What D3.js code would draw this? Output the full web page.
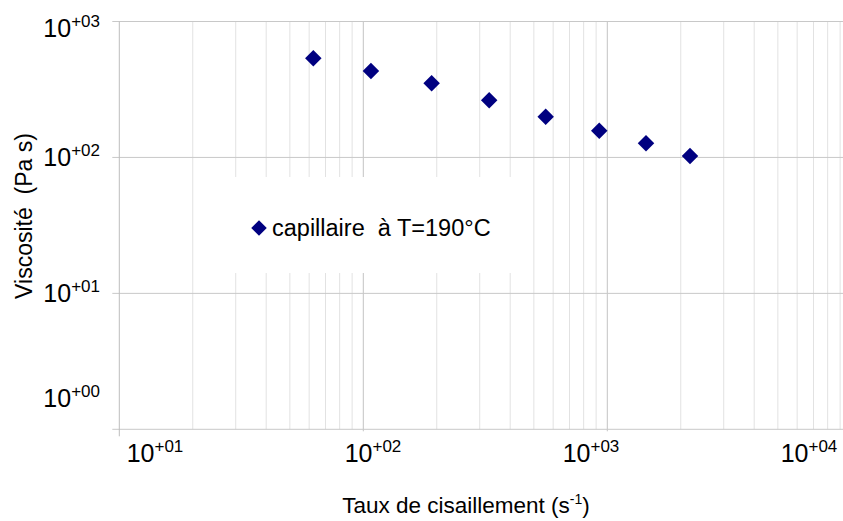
<!DOCTYPE html>
<html><head><meta charset="utf-8">
<script src="https://cdn.jsdelivr.net/npm/d3@7"></script>
<style>body{margin:0;background:#fff}svg{display:block}text{font-family:"Liberation Sans",Arial,sans-serif;fill:#000}</style>
</head><body><svg id="c" width="843" height="521"></svg>
<script>
const shearRate = [62.4, 107.5, 190.6, 328, 559, 927, 1441, 2183];
const viscosity = [536, 432, 351, 263, 199.5, 157.4, 127.1, 102.6];
const seriesName = "capillaire  à T=190°C";
const xTickValues = [10, 100, 1000, 10000];
const xTickExp = ["+01", "+02", "+03", "+04"];
const yTickValues = [1, 10, 100, 1000];
const yTickExp = ["+00", "+01", "+02", "+03"];
const xTitle = "Taux de cisaillement (s";
const xTitleSup = "-1";
const yTitle = "Viscosité  (Pa s)";

(function () {
const svg = d3.select("#c");
const W = 843;
const x = d3.scaleLog().domain([10, 10000]).range([119.3, 851.3]);
const y = d3.scaleLog().domain([1, 1000]).range([429.3, 21.5]);
const pLeft = 119.3, pBottom = 429.3, pTop = 21.5;

// vertical gridlines
const minorX = [];
for (let d = 10; d < 10000; d *= 10) for (let m = 2; m <= 9; m++) minorX.push(d * m);
svg.append("g").selectAll("line").data(minorX.filter(v => x(v) <= W)).join("line")
  .attr("x1", d => x(d)).attr("x2", d => x(d)).attr("y1", pTop).attr("y2", pBottom)
  .attr("stroke", "#e2e2e2").attr("stroke-width", 1);
svg.append("g").selectAll("line").data([100, 1000]).join("line")
  .attr("x1", d => x(d)).attr("x2", d => x(d)).attr("y1", pTop).attr("y2", pBottom + 2)
  .attr("stroke", "#c4c4c4").attr("stroke-width", 1);
// horizontal gridlines
svg.append("g").selectAll("line").data(yTickValues).join("line")
  .attr("x1", pLeft - 7).attr("x2", W).attr("y1", d => y(d)).attr("y2", d => y(d))
  .attr("stroke", "#c8c8c8").attr("stroke-width", 1);
// y axis line
svg.append("line").attr("x1", pLeft).attr("x2", pLeft).attr("y1", pTop).attr("y2", pBottom + 7)
  .attr("stroke", "#bdbdbd");

// legend background
svg.append("rect").attr("x", 234).attr("y", 177).attr("width", 286).attr("height", 96).attr("fill", "#fff");

// x tick labels
const xl = d3.scalePoint().domain(xTickValues).range([155, 809]);
const xt = svg.append("g").selectAll("text").data(xTickValues).join("text")
  .attr("x", d => xl(d)).attr("y", 462).attr("text-anchor", "middle").attr("font-size", 25);
xt.append("tspan").text("10");
xt.append("tspan").attr("dy", -10).attr("font-size", 17).text((d, i) => xTickExp[i]);

// y tick labels
const yt = svg.append("g").selectAll("text").data(yTickValues).join("text")
  .attr("x", 100).attr("y", d => Math.max(28, Math.min(398, y(d))) + 9).attr("text-anchor", "end").attr("font-size", 25);
yt.append("tspan").text("10");
yt.append("tspan").attr("dy", -10).attr("font-size", 17).text((d, i) => yTickExp[i]);

// axis titles
const xtt = svg.append("text").attr("x", 466).attr("y", 513).attr("text-anchor", "middle").attr("font-size", 22.5);
xtt.append("tspan").text(xTitle);
xtt.append("tspan").attr("dy", -9).attr("font-size", 14).text(xTitleSup);
xtt.append("tspan").attr("dy", 9).text(")");
svg.append("text").attr("transform", "translate(32,216) rotate(-90)").attr("text-anchor", "middle")
  .attr("font-size", 23).style("white-space", "pre").text(yTitle);

// points
const diamond = d3.symbol().type(d3.symbolSquare).size(136);
const pts = shearRate.map((v, i) => [v, viscosity[i]]);
svg.append("g").selectAll("path").data(pts).join("path")
  .attr("d", diamond).attr("transform", d => `translate(${x(d[0])},${y(d[1])}) rotate(45)`)
  .attr("fill", "#000080");

// legend
svg.append("path").attr("d", d3.symbol().type(d3.symbolSquare).size(120))
  .attr("transform", "translate(259,228) rotate(45)").attr("fill", "#000080");
svg.append("text").attr("x", 272).attr("y", 236).attr("font-size", 23.5).style("white-space", "pre").text(seriesName);
})();
</script></body></html>
